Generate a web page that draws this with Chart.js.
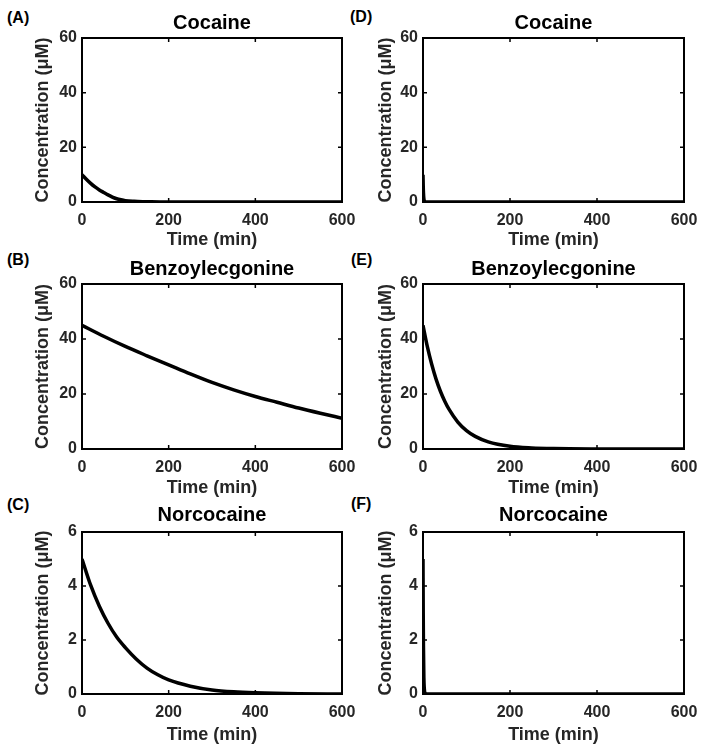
<!DOCTYPE html>
<html><head><meta charset="utf-8">
<script src="https://cdn.jsdelivr.net/npm/chart.js@4.4.1/dist/chart.umd.min.js"></script>
<style>
body{margin:0;background:#fff;width:704px;height:754px;position:relative;overflow:hidden;font-family:"Liberation Sans",Arial,sans-serif;}
canvas{position:absolute;}
.lbl{position:absolute;font:bold 16px "Liberation Sans",Arial,sans-serif;color:#000;line-height:16px;}
</style></head><body>
<div class="lbl" style="left:7px;top:10px">(A)</div>
<div class="lbl" style="left:350px;top:9px">(D)</div>
<div class="lbl" style="left:7px;top:252px">(B)</div>
<div class="lbl" style="left:351px;top:252px">(E)</div>
<div class="lbl" style="left:7px;top:497px">(C)</div>
<div class="lbl" style="left:351px;top:496px">(F)</div>
<canvas id="cA"></canvas><canvas id="cD"></canvas>
<canvas id="cB"></canvas><canvas id="cE"></canvas>
<canvas id="cC"></canvas><canvas id="cF"></canvas>
<script>
// ---- data (time in min, concentration in µM) ----
const timeA = [0,10,20,30,40,50,60,70,80,90,100,120,140,160,180,200,300,400,500,600];
const cocaineA = [10,8.3,6.8,5.5,4.4,3.5,2.6,1.8,1.2,0.8,0.5,0.25,0.12,0.06,0.03,0.02,0,0,0,0];

const timeD = [0,0.5,1,2,3,5,10,600];
const cocaineD = [10,6,3.5,1.2,0.4,0.05,0,0];

const timeB = [0,50,100,150,200,250,300,350,400,450,500,550,600];
const benzoylB = [45,41.0,37.3,33.9,30.6,27.3,24.2,21.5,19.1,17.0,14.9,13.0,11.2];

const timeE = [0,10,20,30,40,50,60,80,100,120,150,200,250,300,400,500,600];
const benzoylE = [45,37.2,30.8,25.4,21.0,17.4,14.4,9.8,6.7,4.6,2.6,1.0,0.4,0.15,0.02,0,0];

const timeC = [0,20,40,60,80,100,125,150,175,200,250,300,350,400,500,600];
const norcocaineC = [5,4.03,3.25,2.62,2.11,1.72,1.30,0.96,0.71,0.52,0.29,0.15,0.08,0.045,0.01,0];

const timeF = [0,0.5,1,2,3,5,10,600];
const norcocaineF = [5,3,1.8,0.6,0.2,0.03,0,0];

const xTicks = [0,200,400,600];
const yTicksBig = [0,20,40,60];
const yTicksSmall = [0,2,4,6];

const titles = {A:'Cocaine',D:'Cocaine',B:'Benzoylecgonine',E:'Benzoylecgonine',C:'Norcocaine',F:'Norcocaine'};

// ---- layout ----
const FONT = '"Liberation Sans", Arial, sans-serif';
const cols = [{left:0, W:370, padR:28, yTitlePad:32},{left:341, W:363, padR:20, yTitlePad:34}];
const rows = [
  {top:0,   plotH:164, tPadT:11, tPadB:3, xTitlePadB:3},
  {top:246, plotH:165, tPadT:11, tPadB:3, xTitlePadB:2},
  {top:494, plotH:162, tPadT:9,  tPadB:5, xTitlePadB:0}
];
const panels = [
  {id:'A', col:0,row:0, t:timeA, v:cocaineA, yMax:60, yTicks:yTicksBig},
  {id:'D', col:1,row:0, t:timeD, v:cocaineD, yMax:60, yTicks:yTicksBig},
  {id:'B', col:0,row:1, t:timeB, v:benzoylB, yMax:60, yTicks:yTicksBig},
  {id:'E', col:1,row:1, t:timeE, v:benzoylE, yMax:60, yTicks:yTicksBig},
  {id:'C', col:0,row:2, t:timeC, v:norcocaineC, yMax:6, yTicks:yTicksSmall},
  {id:'F', col:1,row:2, t:timeF, v:norcocaineF, yMax:6, yTicks:yTicksSmall}
];

const boxPlugin = {
  id:'box',
  afterDatasetsDraw(chart){
    const {ctx, chartArea:a, scales:{x,y}} = chart;
    ctx.save();
    ctx.strokeStyle = '#000';
    ctx.lineWidth = 2;
    ctx.strokeRect(a.left, a.top, a.right - a.left, a.bottom - a.top);
    ctx.lineWidth = 1.5;
    ctx.beginPath();
    x.ticks.forEach(t => {
      const p = x.getPixelForValue(t.value);
      ctx.moveTo(p, a.bottom); ctx.lineTo(p, a.bottom - 4);
      ctx.moveTo(p, a.top); ctx.lineTo(p, a.top + 4);
    });
    y.ticks.forEach(t => {
      const p = y.getPixelForValue(t.value);
      ctx.moveTo(a.left, p); ctx.lineTo(a.left + 4, p);
      ctx.moveTo(a.right, p); ctx.lineTo(a.right - 4, p);
    });
    ctx.stroke();
    ctx.restore();
  }
};

panels.forEach(p => {
  const c = cols[p.col], r = rows[p.row];
  const cv = document.getElementById('c' + p.id);
  const W = c.W, H = 38 + r.plotH + 52;
  cv.width = W; cv.height = H;
  cv.style.left = c.left + 'px'; cv.style.top = r.top + 'px';
  cv.style.width = W + 'px'; cv.style.height = H + 'px';
  const pts = p.t.map((tt, i) => ({x: tt, y: p.v[i]}));
  new Chart(cv, {
    type: 'line',
    data: {datasets: [{data: pts, borderColor:'#000', borderWidth:3.5, pointRadius:0,
      cubicInterpolationMode:'monotone', fill:false}]},
    options: {
      responsive:false, animation:false, devicePixelRatio:1,
      layout:{padding:{left:0, right:c.padR, top:0, bottom:0}},
      plugins:{
        legend:{display:false}, tooltip:{enabled:false},
        title:{display:true, text:titles[p.id], fullSize:false, color:'#000',
          font:{family:FONT, size:20, weight:'bold', lineHeight:1.2},
          padding:{top:r.tPadT, bottom:r.tPadB}}
      },
      scales:{
        x:{type:'linear', min:0, max:600,
          afterBuildTicks: s => { s.ticks = xTicks.map(v => ({value:v})); },
          afterFit: s => { s.height = 52; s.paddingLeft = 0; s.paddingRight = 0; },
          grid:{display:false, drawTicks:false}, border:{display:false},
          ticks:{color:'#262626', padding:9, maxRotation:0, font:{family:FONT, size:16, weight:'bold'}},
          title:{display:true, text:'Time (min)', color:'#262626', padding:{top:0,bottom:r.xTitlePadB},
            font:{family:FONT, size:18, weight:'bold', lineHeight:1.2}}},
        y:{type:'linear', min:0, max:p.yMax,
          afterBuildTicks: s => { s.ticks = p.yTicks.map(v => ({value:v})); },
          afterFit: s => { s.width = 82; s.paddingTop = 0; s.paddingBottom = 0; },
          grid:{display:false, drawTicks:false}, border:{display:false},
          ticks:{color:'#262626', padding:5, font:{family:FONT, size:16, weight:'bold'}},
          title:{display:true, text:'Concentration (μM)', color:'#262626', padding:{top:c.yTitlePad,bottom:0},
            font:{family:FONT, size:18, weight:'bold', lineHeight:1.2}}}
      }
    },
    plugins:[boxPlugin]
  });
});
</script>
</body></html>
